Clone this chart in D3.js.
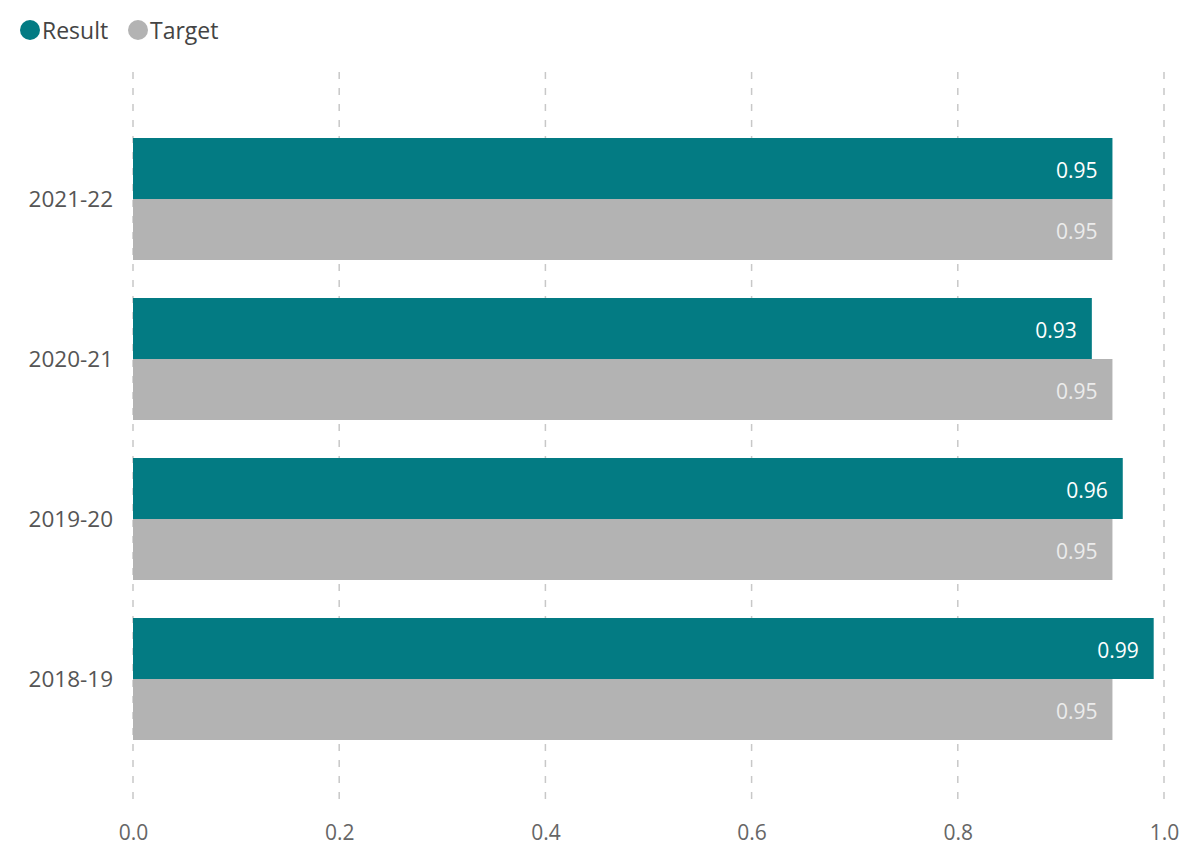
<!DOCTYPE html>
<html><head><meta charset="utf-8">
<script src="https://cdn.jsdelivr.net/npm/d3@7"></script>
<style>body{margin:0;background:#fff}svg{display:block}text{font-family:"Open Sans","Noto Sans",sans-serif}</style>
</head><body>
<svg id="c" width="1191" height="850"></svg>
<script>
const categories = ["2021-22","2020-21","2019-20","2018-19"];
const seriesNames = ["Result","Target"];
const resultValues = [0.95,0.93,0.96,0.99];
const targetValues = [0.95,0.95,0.95,0.95];
const xTicks = [0,0.2,0.4,0.6,0.8,1.0];
const colors = ["#037b83","#b3b3b3"];

const svg = d3.select("#c");
const x = d3.scaleLinear().domain([0,1]).range([133,1164]);
const y = d3.scaleBand().domain(categories).range([119,759]).paddingInner(0.2375).paddingOuter(0.11875);
const ys = d3.scaleBand().domain(seriesNames).range([0,y.bandwidth()]);

// gridlines
svg.append("g").selectAll("line").data(xTicks).join("line")
  .attr("x1",d=>x(d)).attr("x2",d=>x(d)).attr("y1",72).attr("y2",808)
  .attr("stroke","#c8c8c8").attr("stroke-width",1.5).attr("stroke-dasharray","7,9");

const data = categories.map((c,i)=>({cat:c, vals:[resultValues[i],targetValues[i]]}));
const g = svg.append("g").selectAll("g").data(data).join("g")
  .attr("transform",d=>`translate(0,${y(d.cat)})`);
g.selectAll("rect").data(d=>d.vals.map((v,j)=>({v,j}))).join("rect")
  .attr("x",x(0)).attr("y",d=>ys(seriesNames[d.j])).attr("height",ys.bandwidth())
  .attr("width",d=>x(d.v)-x(0)).attr("fill",d=>colors[d.j]);
g.selectAll("text").data(d=>d.vals.map((v,j)=>({v,j}))).join("text")
  .attr("x",d=>x(d.v)-15).attr("y",d=>ys(seriesNames[d.j])+ys.bandwidth()/2+9)
  .attr("text-anchor","end").attr("font-size",21)
  .attr("fill",d=>d.j===0?"#ffffff":"#ececec")
  .text(d=>d.v.toFixed(2));

// y axis labels
svg.append("g").selectAll("text").data(categories).join("text")
  .attr("x",113).attr("y",d=>y(d)+y.bandwidth()/2+8).attr("text-anchor","end")
  .attr("font-size",22.5).attr("fill","#555").text(d=>d);

// x axis
const xa = d3.axisBottom(x).tickValues(xTicks).tickFormat(d3.format(".1f")).tickSize(0).tickPadding(0);
const ax = svg.append("g").attr("transform","translate(0,840)").call(xa);
ax.select(".domain").remove();
ax.selectAll("text").attr("font-size",21).attr("fill","#666").attr("dy","0").style("font-family",'"Open Sans","Noto Sans",sans-serif');

// legend
const leg = svg.append("g");
const lx=[30,138];
seriesNames.forEach((s,i)=>{
  leg.append("circle").attr("cx",lx[i]).attr("cy",30).attr("r",10).attr("fill",colors[i]);
  leg.append("text").attr("x",lx[i]+12).attr("y",39).attr("font-size",23).attr("fill","#444").text(s);
});
</script>
</body></html>
